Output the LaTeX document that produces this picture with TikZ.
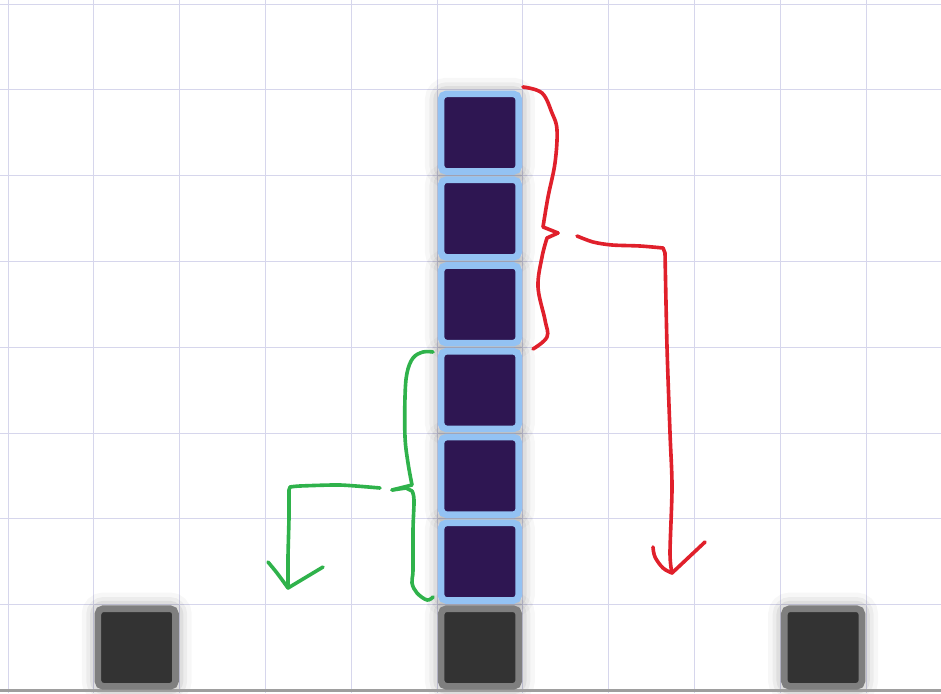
\documentclass[tikz,border=0pt]{standalone}
\usetikzlibrary{backgrounds}
\definecolor{lav}{HTML}{D6D6EC}
\definecolor{rim}{HTML}{93C2F3}
\definecolor{core}{HTML}{2E1652}
\definecolor{rimg}{HTML}{7F7F7F}
\definecolor{coreg}{HTML}{333333}
\definecolor{pred}{HTML}{E0202B}
\definecolor{pgrn}{HTML}{2FB24B}
\tikzset{
  gridln/.style ={draw=lav,line width=.65pt},
  floorln/.style={draw=black!38,line width=1.8pt},
  tile/.style   ={draw=rim,fill=core,line width=4.4pt,rounded corners=3.5pt,minimum size=51.5pt,inner sep=0pt},
  base/.style   ={tile,draw=rimg,fill=coreg},
  halo/.style   ={draw=black,rounded corners=6pt},
  redpen/.style ={draw=pred,line width=2.4pt,line cap=round,line join=round},
  grnpen/.style ={redpen,draw=pgrn},
}
\begin{document}
\begin{tikzpicture}[x=0.02331cm,y=-0.02331cm]
\useasboundingbox (0,0) rectangle (941,693);
% ===== grid =====
\begin{scope}[on background layer]
  \foreach \i in {0,...,10} \draw[gridln] ({8+85.8*\i},0) -- ({8+85.8*\i},693);
  \foreach \j in {0,...,8} \draw[gridln] (0,{4+85.8*\j}) -- (941,{4+85.8*\j});
\end{scope}
\draw[floorln] (0,690.8) -- (941,690.8);

% ===== blocks =====
\foreach \k in {1,...,6}
  \node[tile] (c\k) at (479.9,{690.4-85.8*(\k+0.5)}) {};
\node[base] (g1) at (136.7,647.5) {};
\node[base] (g2) at (479.9,647.5) {};
\node[base] (g3) at (823.1,647.5) {};
\begin{scope}[on background layer]
  \foreach \n in {c1,c2,c3,c4,c5,c6,g1,g2,g3} {
    \draw[halo,line width=17pt,draw opacity=.03] (\n.south west) rectangle (\n.north east);
    \draw[halo,line width=11pt,draw opacity=.045] (\n.south west) rectangle (\n.north east);
    \draw[halo,line width=6pt,draw opacity=.06] (\n.south west) rectangle (\n.north east);
  }
\end{scope}

% ===== red brace + arrow =====
\coordinate (rtip) at (558,233);
\coordinate (rfrom) at (577,236);
\coordinate (rto) at (672,573);
\draw[redpen] plot[smooth,tension=.6] coordinates {(523,87) (542,93) (552,113) (557,130) (555,163) (548,197) (543,227)} -- (rtip);
\draw[redpen] (rtip) -- plot[smooth,tension=.6] coordinates {(547,238) (542,257) (538,287) (545,320) (547,337) (533,349)};
\draw[redpen] plot[smooth,tension=.5] coordinates {(rfrom) (593,242) (612,245) (640,246) (663,248)}
  -- plot[smooth,tension=.5] coordinates {(665,253) (667,347) (670,433) (672,487) (670,553) (rto)};
\draw[redpen] plot[smooth,tension=.6] coordinates {(653,547) (655,557) (663,568) (rto)} -- (705,542);

% ===== green brace + arrow =====
\coordinate (gtip) at (392,490);
\coordinate (gfrom) at (380,488);
\coordinate (gto) at (288,588);
\draw[grnpen] plot[smooth,tension=.6] coordinates {(433,352) (423,352) (413,358) (407,373) (405,397) (405,437) (408,463) (412,485)} -- (gtip);
\draw[grnpen] (gtip) -- (406,488) -- plot[smooth,tension=.6] coordinates {(412,491) (414,500) (413,530) (413,570) (412,583) (417,593) (427,600) (433,597)};
\draw[grnpen] plot[smooth,tension=.4] coordinates {(gfrom) (340,485) (300,486) (290,487)}
  -- plot[smooth,tension=.4] coordinates {(289,490) (289,517) (288,557) (gto)};
\draw[grnpen] plot[smooth,tension=.6] coordinates {(268,562) (277,573) (gto)} -- (323,567);
\end{tikzpicture}
\end{document}
